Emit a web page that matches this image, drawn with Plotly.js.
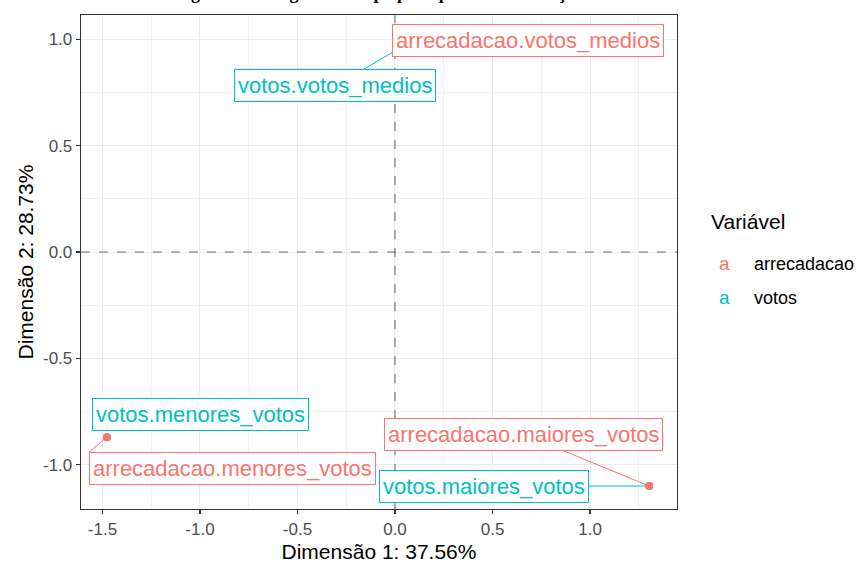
<!DOCTYPE html>
<html>
<head>
<meta charset="utf-8">
<script src="https://cdn.plot.ly/plotly-3.0.1.min.js"></script>
<style>html,body{margin:0;padding:0;background:#fff}#chart{width:860px;height:565px}</style>
</head>
<body>
<div id="chart"></div>
<script>
// ---- data ----
const categories = ['votos_medios', 'menores_votos', 'maiores_votos'];
const arrecadacaoX = [0.026, -1.477, 1.303];
const arrecadacaoY = [0.960, -0.871, -1.101];
const votosX = [0.026, -1.477, 1.303];
const votosY = [0.960, -0.871, -1.101];
const xTicks = [-1.5, -1.0, -0.5, 0.0, 0.5, 1.0];
const xTickLabels = ['-1.5', '-1.0', '-0.5', '0.0', '0.5', '1.0'];
const yTicks = [-1.0, -0.5, 0.0, 0.5, 1.0];
const yTickLabels = ['-1.0', '-0.5', '0.0', '0.5', '1.0'];
const variables = ['arrecadacao', 'votos'];
const colors = {arrecadacao: '#F8766D', votos: '#00BFC4'};

// ---- label placement (pixel offsets from point to label anchor) ----
const labelOffsets = {
  'votos.votos_medios':        {ax: -65,  ay: 38,  xa: 'center', ya: 'middle', seg: true},
  'arrecadacao.votos_medios':  {ax: 128,  ay: -7,  xa: 'center', ya: 'middle', seg: false},
  'arrecadacao.menores_votos': {ax: -18,  ay: 15,  xa: 'left',   ya: 'top',    seg: true},
  'arrecadacao.maiores_votos': {ax: -126, ay: -52, xa: 'center', ya: 'middle', seg: true},
  'votos.menores_votos':       {ax: 94,   ay: -23, xa: 'center', ya: 'middle', seg: false},
  'votos.maiores_votos':       {ax: -165, ay: 0,   xa: 'center', ya: 'middle', seg: true}
};
const drawOrder = ['votos.votos_medios','arrecadacao.votos_medios','arrecadacao.menores_votos',
                   'arrecadacao.maiores_votos','votos.menores_votos','votos.maiores_votos'];

const series = {
  arrecadacao: {x: arrecadacaoX, y: arrecadacaoY},
  votos: {x: votosX, y: votosY}
};

const traces = ['votos', 'arrecadacao'].map(v => ({
  type: 'scatter', mode: 'markers',
  x: series[v].x, y: series[v].y,
  text: categories.map(c => v + '.' + c),
  marker: {color: colors[v], size: 8},
  showlegend: false, hoverinfo: 'text'
}));

const labelFont = 'Liberation Sans, Arial, sans-serif';
const annotations = drawOrder.map(name => {
  const [v, c] = name.split('.');
  const i = categories.indexOf(c);
  const o = labelOffsets[name];
  return {
    x: series[v].x[i], y: series[v].y[i], xref: 'x', yref: 'y',
    text: name, showarrow: true, ax: o.ax, ay: o.ay, axref: 'pixel', ayref: 'pixel',
    xanchor: o.xa, yanchor: o.ya,
    arrowhead: 0, arrowwidth: 1, standoff: 3,
    arrowcolor: o.seg ? colors[v] : 'rgba(0,0,0,0)',
    font: {family: labelFont, size: 22, color: colors[v]},
    bgcolor: '#ffffff', bordercolor: colors[v], borderwidth: 1, borderpad: 3
  };
});

// manual legend (ggplot style text keys)
annotations.push({xref: 'paper', yref: 'paper', x: 1.0537, y: 0.581, xanchor: 'left', yanchor: 'middle',
  text: 'Variável', showarrow: false, font: {family: labelFont, size: 21, color: '#000'}});
variables.forEach((v, k) => {
  const yy = [0.496, 0.428][k];
  annotations.push({xref: 'paper', yref: 'paper', x: 1.0805, y: yy, xanchor: 'center', yanchor: 'middle',
    text: 'a', showarrow: false, font: {family: labelFont, size: 19, color: colors[v]}});
  annotations.push({xref: 'paper', yref: 'paper', x: 1.126, y: yy, xanchor: 'left', yanchor: 'middle',
    text: v, showarrow: false, font: {family: labelFont, size: 18, color: '#000'}});
});

// title, clipped at the very top as in the reference
annotations.push({xref: 'paper', yref: 'paper', x: 0.5, y: 1.0, yanchor: 'bottom', yshift: 10,
  text: '<b>Figura 3 – Imagem do mapa perceptual: arrecadação</b>', showarrow: false,
  font: {family: 'Liberation Serif, Times New Roman, serif', size: 18, color: '#000'}});

const axisCommon = {
  showgrid: true, gridcolor: '#ebebeb', gridwidth: 1, zeroline: false,
  showline: true, mirror: true, linecolor: '#333333', linewidth: 1.3,
  ticks: 'outside', ticklen: 4, tickwidth: 1.1, tickcolor: '#333333',
  tickfont: {family: labelFont, size: 17, color: '#4d4d4d'},
  tickmode: 'array',
  minor: {dtick: 0.25, showgrid: true, gridcolor: '#f0f0f0', gridwidth: 1, ticks: ''}
};

const layout = {
  width: 860, height: 565,
  margin: {l: 81, r: 183, t: 15, b: 56},
  paper_bgcolor: '#ffffff', plot_bgcolor: '#ffffff',
  showlegend: false,
  xaxis: Object.assign({}, axisCommon, {
    range: [-1.61, 1.446], tickvals: xTicks, ticktext: xTickLabels,
    title: {text: 'Dimensão 1: 37.56%', standoff: 6, font: {family: labelFont, size: 21, color: '#000'}}
  }),
  yaxis: Object.assign({}, axisCommon, {
    range: [-1.209, 1.115], tickvals: yTicks, ticktext: yTickLabels,
    title: {text: 'Dimensão 2: 28.73%', standoff: 3, font: {family: labelFont, size: 21, color: '#000'}}
  }),
  shapes: [
    {type: 'line', xref: 'x', yref: 'paper', x0: 0, x1: 0, y0: 0, y1: 1, layer: 'above',
     line: {color: '#6e6e6e', width: 1.1, dash: 'dash'}},
    {type: 'line', xref: 'paper', yref: 'y', x0: 0, x1: 1, y0: 0, y1: 0, layer: 'above',
     line: {color: '#6e6e6e', width: 1.1, dash: 'dash'}}
  ],
  annotations: annotations
};

Plotly.newPlot('chart', traces, layout, {staticPlot: true, displayModeBar: false});
</script>
</body>
</html>
